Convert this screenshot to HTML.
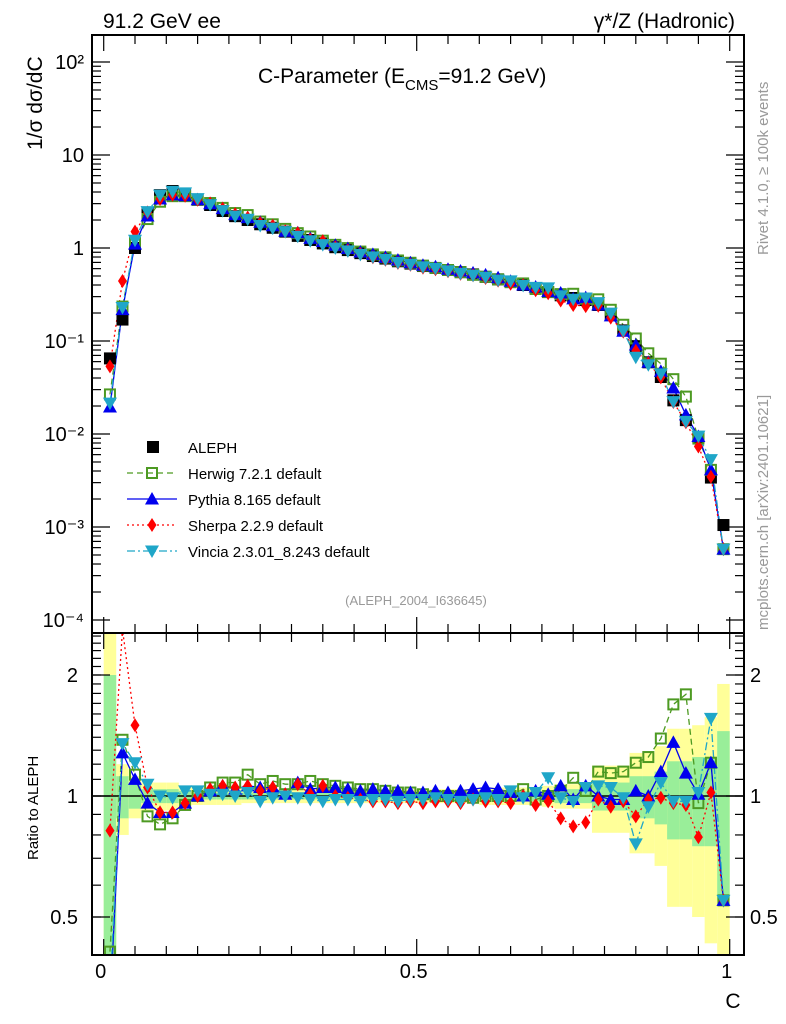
<!DOCTYPE html>
<html><head><meta charset="utf-8"><style>
html,body{margin:0;padding:0;background:#fff;width:786px;height:1024px;overflow:hidden;}
svg{display:block;font-family:"Liberation Sans",sans-serif;}
</style></head><body>
<svg id="chart" width="786" height="1024" viewBox="0 0 786 1024" xmlns="http://www.w3.org/2000/svg">
<defs>
<clipPath id="clipMain"><rect x="92" y="35" width="652" height="598"/></clipPath>
<clipPath id="clipRatio"><rect x="92" y="633" width="652" height="322"/></clipPath>
</defs>
<g id="bands" clip-path="url(#clipRatio)"></g>
<g id="ticks"></g>
<line x1="92" y1="796" x2="744" y2="796" stroke="#000" stroke-width="1.5"/>
<g id="mainSeries" clip-path="url(#clipMain)"></g>
<g id="ratioSeries" clip-path="url(#clipRatio)"></g>
<rect x="92" y="35" width="652" height="598" fill="none" stroke="#000" stroke-width="2"/>
<rect x="92" y="633" width="652" height="322" fill="none" stroke="#000" stroke-width="2"/>
<text x="103" y="28" font-size="21">91.2 GeV ee</text>
<text x="735" y="28" font-size="21" text-anchor="end">γ*/Z (Hadronic)</text>
<text x="258" y="83" font-size="21">C-Parameter (E<tspan font-size="15" dy="7">CMS</tspan><tspan dy="-7">=91.2 GeV)</tspan></text>
<text transform="translate(42,150) rotate(-90)" font-size="21">1/σ  dσ/dC</text>
<text transform="translate(38,860) rotate(-90)" font-size="15">Ratio to ALEPH</text>
<text x="733" y="1008" font-size="21" text-anchor="middle">C</text>
<text transform="translate(768,255) rotate(-90)" font-size="15" fill="#999">Rivet 4.1.0, ≥ 100k events</text>
<text transform="translate(768,630) rotate(-90)" font-size="15" fill="#999">mcplots.cern.ch [arXiv:2401.10621]</text>
<text x="416" y="605" font-size="13" fill="#999" text-anchor="middle">(ALEPH_2004_I636645)</text>
<g id="legend"></g>
</svg>
<script>
const binCenters = [];
for (let k = 0; k < 50; k++) binCenters.push(0.01 + 0.02 * k);
const alephValues = [0.065,0.17,1.0,2.3,3.7,4.1,3.8,3.3,2.9,2.5,2.2,2.0,1.8,1.65,1.5,1.35,1.22,1.12,1.02,0.95,0.88,0.82,0.77,0.72,0.68,0.64,0.61,0.58,0.55,0.52,0.49,0.46,0.43,0.4,0.37,0.336,0.31,0.29,0.276,0.244,0.19,0.13,0.088,0.059,0.041,0.023,0.0141,0.0093,0.0034,0.00105];
const herwigRatio = [0.41,1.38,1.13,0.89,0.85,0.88,0.95,1.0,1.05,1.08,1.08,1.13,1.07,1.09,1.07,1.07,1.09,1.07,1.06,1.05,1.04,1.04,1.03,1.02,1.02,1.01,1.0,1.0,1.0,0.99,1.0,1.0,1.0,1.04,0.98,1.0,1.03,1.11,1.03,1.15,1.14,1.15,1.21,1.25,1.39,1.69,1.79,0.96,1.21,0.55];
const pythiaRatio = [0.3,1.28,1.1,0.96,0.91,0.91,0.96,1.0,1.03,1.06,1.04,1.06,1.05,1.05,1.01,1.08,1.04,1.05,1.05,1.04,1.03,1.04,1.03,1.03,1.02,1.02,1.03,1.02,1.03,1.04,1.05,1.04,1.02,1.0,1.03,1.01,1.06,0.98,1.06,1.0,0.98,0.98,1.03,1.0,1.15,1.36,1.14,1.01,1.21,0.55];
const sherpaRatio = [0.82,2.6,1.5,1.05,0.91,0.91,0.96,1.0,1.04,1.06,1.05,1.06,1.03,1.05,1.01,1.07,1.01,1.06,1.0,0.99,0.98,0.97,0.97,0.96,0.97,0.96,0.97,0.97,0.96,0.98,0.97,0.97,0.96,1.0,0.95,0.97,0.88,0.84,0.86,0.98,0.94,0.97,0.89,0.98,0.99,0.96,0.95,0.79,1.02,0.55];
const vinciaRatio = [0.33,1.35,1.21,1.07,1.0,0.99,1.03,1.03,1.01,1.01,1.0,1.02,0.97,0.99,1.0,0.99,0.98,0.97,0.98,0.98,0.97,0.98,0.98,0.97,0.98,0.98,0.99,0.98,0.97,0.98,0.99,0.98,1.03,0.99,1.02,1.11,0.99,0.97,1.05,1.06,1.05,0.99,0.76,0.94,1.08,0.97,0.97,1.02,1.56,0.55];
const statErr = [1.0,0.12,0.07,0.04,0.04,0.04,0.03,0.02,0.02,0.02,0.02,0.02,0.02,0.02,0.02,0.02,0.02,0.02,0.02,0.02,0.02,0.02,0.02,0.02,0.02,0.02,0.02,0.02,0.02,0.02,0.02,0.02,0.03,0.03,0.03,0.03,0.04,0.04,0.04,0.08,0.08,0.08,0.12,0.12,0.15,0.22,0.22,0.25,0.25,0.45];
const totalErr = [1.6,0.2,0.12,0.08,0.08,0.08,0.06,0.05,0.05,0.05,0.05,0.04,0.04,0.04,0.04,0.04,0.04,0.04,0.04,0.04,0.04,0.04,0.04,0.04,0.04,0.04,0.04,0.04,0.04,0.04,0.05,0.05,0.05,0.05,0.05,0.06,0.07,0.07,0.07,0.19,0.19,0.19,0.28,0.28,0.33,0.47,0.47,0.5,0.57,0.9];
const mainTickLabels = ["10⁻⁴","10⁻³","10⁻²","10⁻¹","1","10","10²"];
const ratioTickLabels = ["0.5","1","2"];
const xTickLabels = ["0","0.5","1"];

const NS = "http://www.w3.org/2000/svg";
const X0 = 103.7, XS = 626;
const xPos = c => X0 + XS * c;
const yMain = v => 248 - 93 * Math.log10(v);
const yRatio = r => 796 - 121 * Math.log2(r);
function mk(tag, attrs, parent) {
  const e = document.createElementNS(NS, tag);
  for (const k in attrs) e.setAttribute(k, attrs[k]);
  parent.appendChild(e);
  return e;
}
const bands = document.getElementById('bands');
const ticks = document.getElementById('ticks');
const mainG = document.getElementById('mainSeries');
const ratioG = document.getElementById('ratioSeries');
const legend = document.getElementById('legend');

binCenters.forEach((c, i) => {
  const xl = xPos(c - 0.01), w = XS * 0.02;
  const lo = Math.max(1 - totalErr[i], 0.05), hi = 1 + totalErr[i];
  const y1 = mk('rect', {x: xl, y: yRatio(hi), width: w, height: yRatio(lo) - yRatio(hi), fill: '#ffff99'}, bands);
  
  
  const slo = Math.max(1 - statErr[i], 0.05), shi = 1 + statErr[i];
  const g1 = mk('rect', {x: xl, y: yRatio(shi), width: w, height: yRatio(slo) - yRatio(shi), fill: '#99ee99'}, bands);
  
  
});

function line(x1, y1, x2, y2, parent, w) {
  return mk('line', {x1, y1, x2, y2, stroke: '#000', 'stroke-width': w || 1.2}, parent);
}
for (let d = -4; d <= 2; d++) {
  const y = yMain(Math.pow(10, d));
  line(92, y, 110, y, ticks); line(744, y, 726, y, ticks);
  const t = mk('text', {x: 84, y: y + 7, 'font-size': 20, 'text-anchor': 'end'}, ticks);
  t.textContent = mainTickLabels[d + 4];
  
  
  for (let m = 2; m <= 9; m++) {
    const ym = yMain(m * Math.pow(10, d));
    if (ym < 35) continue;
    line(92, ym, 101, ym, ticks); line(744, ym, 735, ym, ticks);
  }
}
[0.5, 1, 2].forEach((r, i) => {
  const y = yRatio(r);
  line(92, y, 110, y, ticks); line(744, y, 726, y, ticks);
  const t = mk('text', {x: 78, y: y + 7, 'font-size': 20, 'text-anchor': 'end'}, ticks);
  t.textContent = ratioTickLabels[i];
  
  
  const t2 = mk('text', {x: 750, y: y + 7, 'font-size': 20}, ticks);
  t2.textContent = ratioTickLabels[i];
  
  
});
for (let r = 0.4; r < 2.6; r += 0.1) {
  const y = yRatio(r);
  if (y < 633 || y > 955) continue;
  line(92, y, 101, y, ticks); line(744, y, 735, y, ticks);
}
for (let i = 0; i <= 20; i++) {
  const x = xPos(i * 0.05);
  const major = i % 10 === 0;
  const L = major ? 16 : 9;
  line(x, 35, x, 35 + L, ticks); line(x, 633, x, 633 - L, ticks);
  line(x, 633, x, 633 + L, ticks); line(x, 955, x, 955 - L, ticks);
}
xTickLabels.forEach((s, i) => {
  const t = mk('text', {x: xPos(i * 0.5) - 3, y: 978, 'font-size': 20, 'text-anchor': 'middle'}, ticks);
  t.textContent = s;
  
  
});

function marker(type, x, y, color, parent) {
  let e;
  const s = 6;
  if (type === 'sqfill') e = mk('rect', {x: x - s, y: y - s, width: 2 * s, height: 2 * s, fill: '#000'}, parent);
  else if (type === 'sqopen') e = mk('rect', {x: x - s + 1, y: y - s + 1, width: 2 * s - 2, height: 2 * s - 2, fill: 'none', stroke: color, 'stroke-width': 2}, parent);
  else if (type === 'up') e = mk('polygon', {points: `${x},${y - 7} ${x - 7},${y + 5.5} ${x + 7},${y + 5.5}`, fill: color}, parent);
  else if (type === 'down') e = mk('polygon', {points: `${x},${y + 7} ${x - 7},${y - 5.5} ${x + 7},${y - 5.5}`, fill: color}, parent);
  else if (type === 'diam') e = mk('polygon', {points: `${x},${y - 7} ${x - 4.5},${y} ${x},${y + 7} ${x + 4.5},${y}`, fill: color}, parent);
  return e;
}
const series = [
  {name: 'herwig', ratio: herwigRatio, color: '#4d9a22', dash: '6,4', mk: 'sqopen', label: 'Herwig 7.2.1 default'},
  {name: 'pythia', ratio: pythiaRatio, color: '#0000ee', dash: '', mk: 'up', label: 'Pythia 8.165 default'},
  {name: 'sherpa', ratio: sherpaRatio, color: '#ff0000', dash: '2,3', mk: 'diam', label: 'Sherpa 2.2.9 default'},
  {name: 'vincia', ratio: vinciaRatio, color: '#1fa6c8', dash: '8,3,2,3', mk: 'down', label: 'Vincia 2.3.01_8.243 default'}
];
series.forEach(s => {
  const mainPts = binCenters.map((c, i) => [xPos(c), yMain(alephValues[i] * s.ratio[i])]);
  const ratioPts = binCenters.map((c, i) => [xPos(c), yRatio(s.ratio[i])]);
  const p1 = mk('polyline', {points: mainPts.map(p => p.join(',')).join(' '), fill: 'none', stroke: s.color, 'stroke-width': 1.3, 'stroke-dasharray': s.dash}, mainG);
  
  
  const p2 = mk('polyline', {points: ratioPts.map(p => p.join(',')).join(' '), fill: 'none', stroke: s.color, 'stroke-width': 1.3, 'stroke-dasharray': s.dash}, ratioG);
  
  
  s.mainPts = mainPts; s.ratioPts = ratioPts;
});
binCenters.forEach((c, i) => {
  const m = marker('sqfill', xPos(c), yMain(alephValues[i]), '#000', mainG);
  
  
});
series.forEach(s => {
  s.mainPts.forEach(p => {
    const m = marker(s.mk, p[0], p[1], s.color, mainG);
    
    
  });
  s.ratioPts.forEach(p => {
    const m = marker(s.mk, p[0], p[1], s.color, ratioG);
    
    
  });
});

const la = marker('sqfill', 153, 447, '#000', legend);


const lt = mk('text', {x: 188, y: 453, 'font-size': 15}, legend);
lt.textContent = 'ALEPH';


series.forEach((s, i) => {
  const y = 473 + 26 * i;
  const l = mk('line', {x1: 127, y1: y, x2: 177, y2: y, stroke: s.color, 'stroke-width': 1.3, 'stroke-dasharray': s.dash}, legend);
  
  
  const m = marker(s.mk, 152, y, s.color, legend);
  
  
  const t = mk('text', {x: 188, y: y + 6, 'font-size': 15}, legend);
  t.textContent = s.label;
  
  
});
</script>
</body></html>
